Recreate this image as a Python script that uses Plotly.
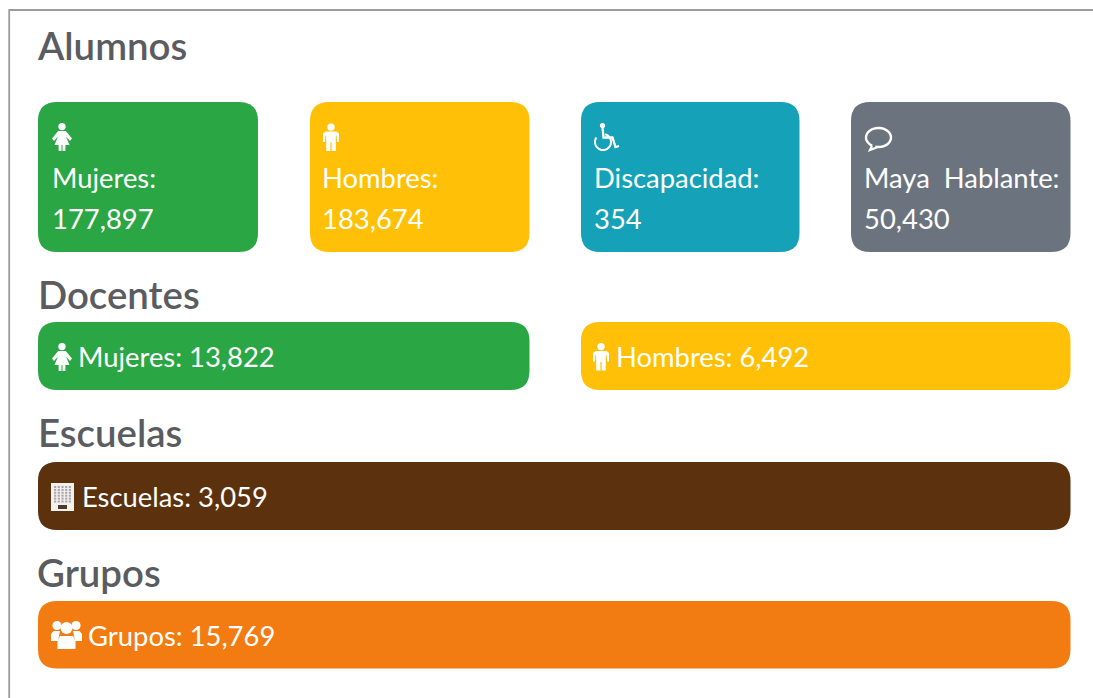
import math
import plotly.graph_objects as go

# ---- content ----
section_titles = ["Alumnos", "Docentes", "Escuelas", "Grupos"]
alumnos_labels = ["Mujeres:", "Hombres:", "Discapacidad:", "Maya\u00a0\u00a0Hablante:"]
alumnos_values = [177897, 183674, 354, 50430]
docentes_labels = ["Mujeres", "Hombres"]
docentes_values = [13822, 6492]
escuelas_label = "Escuelas"
escuelas_value = 3059
grupos_label = "Grupos"
grupos_value = 15769

# ---- styles / layout ----
GREEN, YELLOW, TEAL, GRAY = "#2aa645", "#ffc007", "#15a1b7", "#6b747e"
BROWN, ORANGE = "#5c310e", "#f27c12"
HEAD = "#5a5c60"
FONT = "Lato"
WH = "#ffffff"

shapes, ann = [], []


def rrect(x0, y0, x1, y1, color, r=19):
    p = (f"M{x0+r},{y0} L{x1-r},{y0} Q{x1},{y0} {x1},{y0+r} L{x1},{y1-r} Q{x1},{y1} {x1-r},{y1} "
         f"L{x0+r},{y1} Q{x0},{y1} {x0},{y1-r} L{x0},{y0+r} Q{x0},{y0} {x0+r},{y0} Z")
    shapes.append(dict(type="path", path=p, fillcolor=color, line_width=0))


def fill(pts, color=WH):
    p = "M" + " L".join(f"{x:.1f},{y:.1f}" for x, y in pts) + " Z"
    shapes.append(dict(type="path", path=p, fillcolor=color, line_width=0))


def stroke(pts, w=2.2, color=WH):
    p = "M" + " L".join(f"{x:.1f},{y:.1f}" for x, y in pts)
    shapes.append(dict(type="path", path=p, line=dict(color=color, width=w)))


def circ(cx, cy, r, color=WH):
    shapes.append(dict(type="circle", x0=cx-r, x1=cx+r, y0=cy-r, y1=cy+r, fillcolor=color, line_width=0))


def arc(cx, cy, rx, ry, a0, a1, n=40):
    return [(cx + rx*math.cos(math.radians(a0+(a1-a0)*i/n)),
             cy + ry*math.sin(math.radians(a0+(a1-a0)*i/n))) for i in range(n+1)]


def text(x, y, s, size=27.4, color=WH, weight=400):
    ann.append(dict(x=x, y=y, text=s, showarrow=False, xanchor="left", yanchor="middle", xref="x", yref="y",
                    borderpad=0, font=dict(family=FONT, size=size, color=color, weight=weight), align="left"))


def woman(x, y):  # x = centre, y = top
    circ(x, y+3.6, 3.7)
    fill([(x-3.8, y+8), (x+3.8, y+8), (x+10, y+15.5), (x+8, y+18), (x+4, y+13.5), (x+7.5, y+22),
          (x+3.4, y+22), (x+3.4, y+28), (x+0.5, y+28), (x+0.5, y+22), (x-0.5, y+22), (x-0.5, y+28),
          (x-3.4, y+28), (x-3.4, y+22), (x-7.5, y+22), (x-4, y+13.5), (x-8, y+18), (x-10, y+15.5)])


def man(x, y):
    circ(x, y+3.6, 3.7)
    fill([(x-5.5, y+8), (x+5.5, y+8), (x+8, y+10), (x+8, y+18.5), (x+6, y+18.5), (x+5.6, y+12), (x+4.8, y+12),
          (x+4.8, y+27.5), (x+0.6, y+27.5), (x+0.6, y+19), (x-0.6, y+19), (x-0.6, y+27.5), (x-4.8, y+27.5),
          (x-4.8, y+12), (x-5.6, y+12), (x-6, y+18.5), (x-8, y+18.5), (x-8, y+10)])


# frame
shapes.append(dict(type="path", path="M9.2,698 L9.2,10 L1093,10", line=dict(color="#9c9c9c", width=1.8)))

# headings
for t, x, y in zip(section_titles, [35.5, 36.5, 36.5, 35.5], [45, 294, 432, 572]):
    text(x, y, t, size=38.4, color=HEAD, weight=600)

# Alumnos
al_x = [(38, 258), (310, 529.5), (581, 799.5), (851, 1070.5)]
al_text_x = [51, 321, 592.5, 863]
for (x0, x1), c, lab, v, tx in zip(al_x, [GREEN, YELLOW, TEAL, GRAY], alumnos_labels, alumnos_values, al_text_x):
    rrect(x0, 102, x1, 252, c)
    text(tx, 177.5, lab)
    text(tx, 218.5, f"{v:,}")
woman(62, 123)
man(331, 123.5)
# wheelchair
circ(602.5, 125.5, 2.6)
stroke(arc(603, 142, 8, 8, -75, 215), 2)
stroke([(602.5, 127), (603.5, 137.5), (612.5, 137.5), (615.5, 147), (619, 146)], 2.3)
# speech bubble
stroke(arc(878.5, 137.5, 12.5, 9.5, 120, 465), 2.4)
stroke([(872, 146), (870, 150), (878, 147)], 2.2)

# Docentes
rrect(38, 322, 529.5, 390, GREEN)
rrect(581, 322, 1070.5, 390, YELLOW)
woman(62, 343)
man(601, 343)
text(76.5, 356.5, f"{docentes_labels[0]}: {docentes_values[0]:,}")
text(614.5, 356.5, f"{docentes_labels[1]}: {docentes_values[1]:,}")

# Escuelas
rrect(38, 462, 1070.5, 530, BROWN)
shapes.append(dict(type="rect", x0=51, x1=74, y0=483, y1=511, fillcolor="#f4f1ea", line_width=0))
for i in range(5):
    for j in range(6):
        shapes.append(dict(type="rect", x0=54+i*3.7, x1=56.2+i*3.7, y0=486+j*2.9, y1=488+j*2.9,
                           fillcolor="#a9a5b5", line_width=0))
shapes.append(dict(type="rect", x0=58, x1=67, y0=505, y1=509, fillcolor="#4a3a30", line_width=0))
text(80.5, 496.5, f"{escuelas_label}: {escuelas_value:,}")

# Grupos
rrect(38, 601, 1070.5, 668.5, ORANGE)
circ(57, 625.5, 4.6)
circ(76, 625.5, 4.6)
circ(66.5, 628, 6)
fill([(51, 641), (51, 634), (53.5, 631), (60, 631), (58, 641)])
fill([(82, 641), (82, 634), (79.5, 631), (73, 631), (75, 641)])
fill([(57.5, 649), (57.5, 641), (60, 636), (73, 636), (75.5, 641), (75.5, 649)])
text(86.5, 635.5, f"{grupos_label}: {grupos_value:,}")

fig = go.Figure()
fig.update_layout(
    width=1093, height=698, margin=dict(l=0, r=0, t=0, b=0),
    paper_bgcolor="white", plot_bgcolor="white", showlegend=False,
    xaxis=dict(range=[0, 1093], visible=False, fixedrange=True),
    yaxis=dict(range=[698, 0], visible=False, fixedrange=True),
    shapes=shapes, annotations=ann,
)
fig.write_html("out.html", config=dict(displayModeBar=False),
               post_script="document.body.style.margin='0';document.body.style.overflow='hidden';")
